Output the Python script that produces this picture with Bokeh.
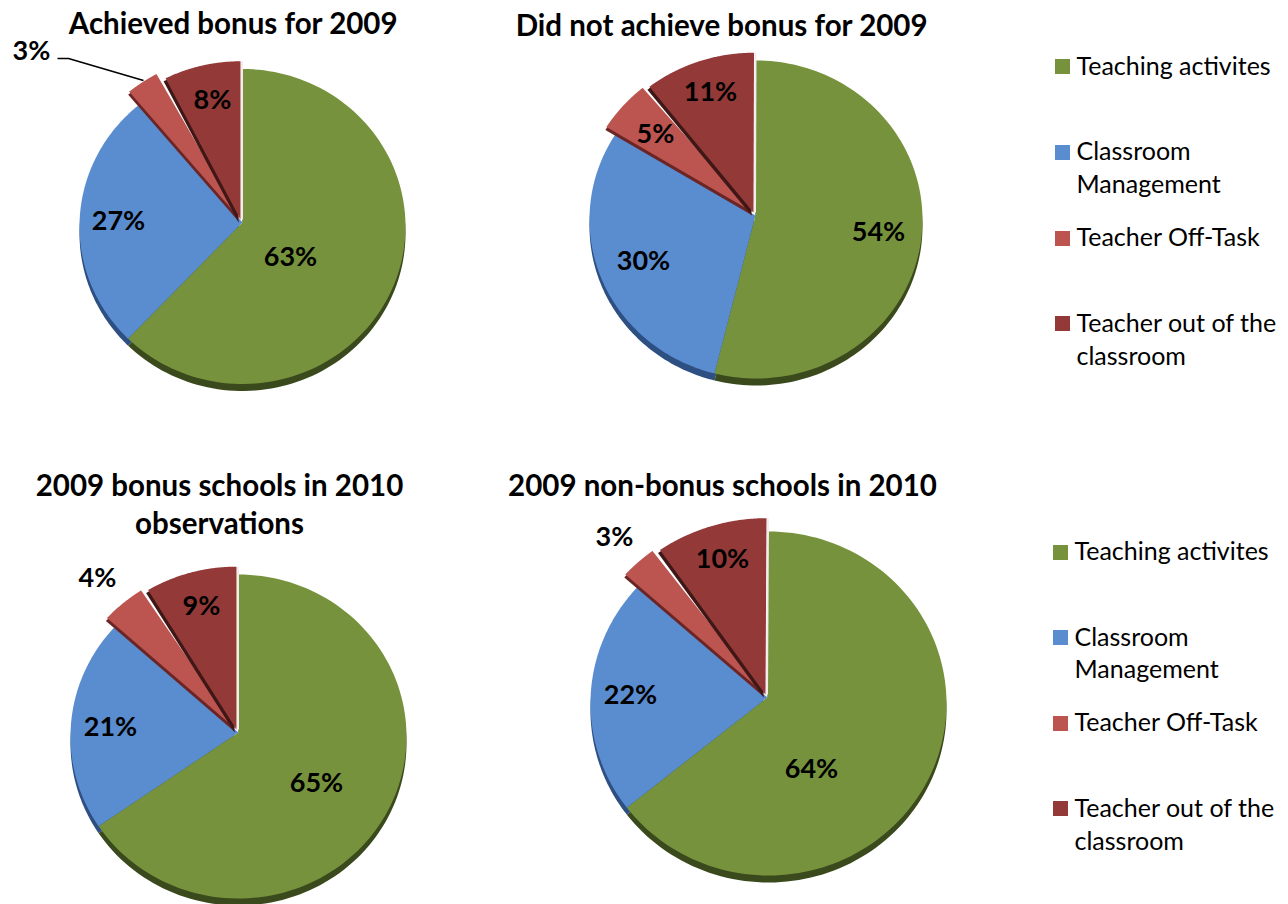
import numpy as np
from bokeh.plotting import figure
from bokeh.models import Range1d
from bokeh.core.properties import value
from bokeh.embed import file_html
from bokeh.resources import INLINE

# ---- data ----
categories = ["Teaching activites", "Classroom Management", "Teacher Off-Task", "Teacher out of the classroom"]
achieved_2009 = [63, 27, 3, 8]
not_achieved_2009 = [54, 30, 5, 11]
bonus_2010 = [65, 21, 4, 9]
non_bonus_2010 = [64, 22, 3, 10]

# ---- layout (page pixels) ----
FONT = value("Lato")
colors = ["#76923c", "#5a8cd0", "#bc5450", "#933a39"]
dark = ["#3b4a1d", "#2d4f82", "#6b2524", "#3e1716"]

pies = [
    dict(vals=achieved_2009, apex=(242, 222), c=(242, 226), r=(163, 157.5), ex=(1.08, 1.03),
         labels=[(290, 255), (118, 219), (31, 49), (212, 98)]),
    dict(vals=not_achieved_2009, apex=(755, 215), c=(755.5, 219), r=(166.5, 159), ex=(1.05, 1.03),
         labels=[(878, 230), (643, 259), (655, 132), (710, 90)]),
    dict(vals=bonus_2010, apex=(238, 732), c=(238, 736), r=(168, 162), ex=(1.05, 1.03),
         labels=[(316, 781), (110, 725), (97, 576), (201, 604)]),
    dict(vals=non_bonus_2010, apex=(767, 697), c=(768, 703), r=(178, 172), ex=(1.08, 1.06),
         labels=[(811, 767), (630, 693), (614, 535), (722, 557)]),
]
titles = [("Achieved bonus for 2009", 233, 22),
          ("Did not achieve bonus for  2009", 725, 24),
          ("2009 bonus schools in 2010", 219, 484),
          ("observations", 219, 522),
          ("2009 non-bonus schools in 2010", 722, 484)]
legends = [
    dict(x=1062, sq=[66, 152, 238, 323],
         lines=[[64], [149, 182], [235], [321, 354]]),
    dict(x=1060, sq=[552, 637, 723, 808],
         lines=[[549], [635, 667], [720], [806, 839]]),
]
legend_lines = [["Teaching activites"], ["Classroom", "Management"],
                ["Teacher Off-Task"], ["Teacher out of the", "classroom"]]
GAP = np.radians(2.0)

p = figure(width=1288, height=904, x_range=Range1d(0, 1288), y_range=Range1d(904, 0),
           output_backend="svg", toolbar_location=None, min_border=0,
           outline_line_color=None, background_fill_color="white")
p.axis.visible = False
p.grid.visible = False


def sector(pie, a0, a1, scale=1.0, off=(0, 0)):
    t = np.linspace(a0, a1, 120)
    cx, cy = pie["c"]
    rx, ry = pie["r"]
    ax, ay = pie["apex"]
    xs = cx + rx * scale * np.sin(t) + off[0]
    ys = cy - ry * scale * np.cos(t) + off[1]
    return np.r_[ax + off[0], xs], np.r_[ay + off[1], ys]


for pie in pies:
    v = np.array(pie["vals"], dtype=float)
    edges = np.r_[0, np.cumsum(v)] / v.sum() * 2 * np.pi
    # bottom rim of the 3-D pie
    for i in (1, 0):
        x, y = sector(pie, edges[i], edges[i + 1], off=(0, 7))
        p.patch(x, y, fill_color=dark[i], line_color=None)
    for i in (1, 0):
        x, y = sector(pie, edges[i], edges[i + 1])
        p.patch(x, y, fill_color=colors[i], line_color=None)
    # exploded slices with their dark side
    for i, s, d, g in zip((2, 3), pie["ex"], ((-1, 3), (-2, 3)), (0, GAP)):
        ox, oy = (-2, -3)
        x, y = sector(pie, edges[i] + g, edges[i + 1], s, (ox + d[0], oy + d[1]))
        p.patch(x, y, fill_color=dark[i], line_color=None)
        x, y = sector(pie, edges[i] + g, edges[i + 1], s, (ox, oy))
        p.patch(x, y, fill_color=colors[i], line_color=None)
    # white seam beside the vertical edge
    x, y = sector(pie, edges[3], edges[4], pie["ex"][1], (-2, -3))
    p.line([x[0] + 1.5, x[-1] + 1.5], [y[0], y[-1]], line_color="#f4ecec", line_width=2)
    # percentage labels
    lx = [q[0] for q in pie["labels"]]
    ly = [q[1] for q in pie["labels"]]
    p.text(lx, ly, text=[f"{int(n)}%" for n in pie["vals"]], text_font=FONT, text_font_style="bold",
           text_font_size="27px", text_align="center", text_baseline="middle", text_color="black")

# leader line of the 3 % label
p.line([57, 68, 143], [58, 58, 80], line_color="black", line_width=1.5)

p.text([t[1] for t in titles], [t[2] for t in titles], text=[t[0] for t in titles],
       text_font=FONT, text_font_style="bold", text_font_size="29.5px",
       text_align="center", text_baseline="middle", text_color="black")

for leg in legends:
    p.scatter([leg["x"]] * 4, leg["sq"], marker="square", size=15, fill_color=colors, line_color=None)
    for ys, ls in zip(leg["lines"], legend_lines):
        p.text([leg["x"] + 14] * len(ys), ys, text=ls, text_font=FONT, text_font_size="25px",
               text_align="left", text_baseline="middle", text_color="black")

open("out.html", "w").write(file_html(p, INLINE))
